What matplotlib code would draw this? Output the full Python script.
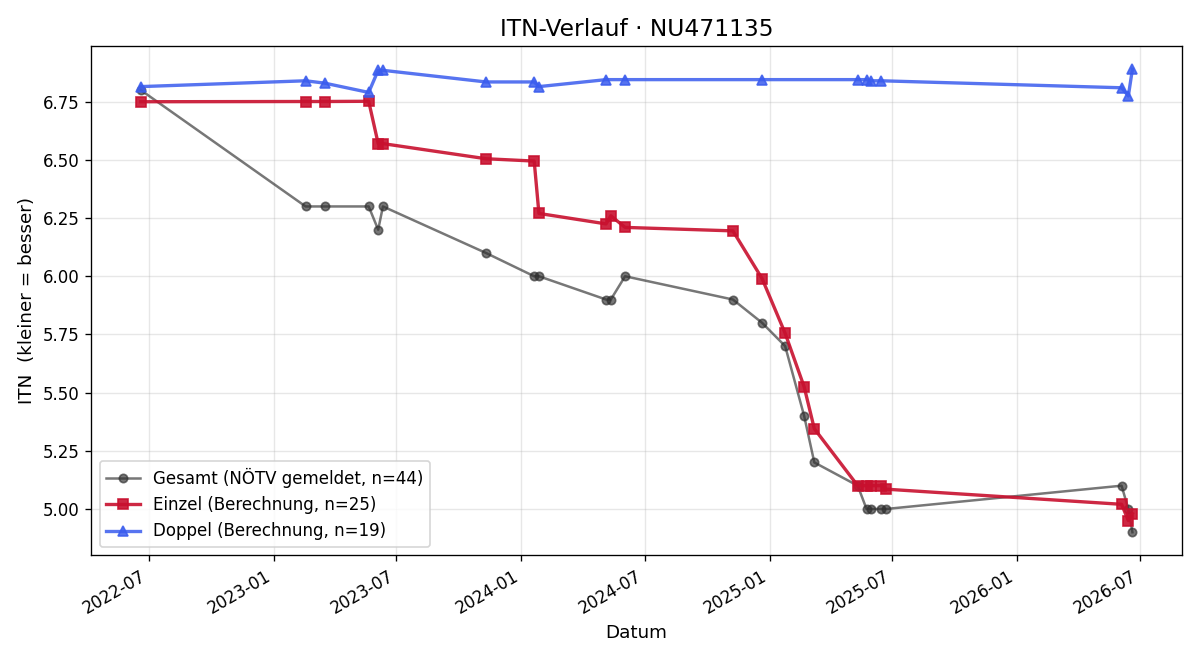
import matplotlib
matplotlib.use("Agg")
import matplotlib.pyplot as plt
import matplotlib.dates as mdates
import pandas as pd

gesamt_dates = ["2022-06-19", "2023-02-17", "2023-03-17", "2023-05-21", "2023-06-04", "2023-06-11",
                "2023-11-10", "2024-01-20", "2024-01-27", "2024-05-05", "2024-05-12", "2024-06-02",
                "2024-11-08", "2024-12-21", "2025-01-24", "2025-02-21", "2025-03-08", "2025-05-11",
                "2025-05-24", "2025-05-30", "2025-06-15", "2025-06-22", "2026-06-04", "2026-06-14",
                "2026-06-20"]
gesamt_vals = [6.80, 6.30, 6.30, 6.30, 6.20, 6.30,
               6.10, 6.00, 6.00, 5.90, 5.90, 6.00,
               5.90, 5.80, 5.70, 5.40, 5.20, 5.10,
               5.00, 5.00, 5.00, 5.00, 5.10, 5.00,
               4.90]

einzel_dates = ["2022-06-19", "2023-02-17", "2023-03-17", "2023-05-21", "2023-06-04", "2023-06-11",
                "2023-11-10", "2024-01-20", "2024-01-27", "2024-05-05", "2024-05-12", "2024-06-02",
                "2024-11-08", "2024-12-21", "2025-01-24", "2025-02-21", "2025-03-08", "2025-05-11",
                "2025-05-24", "2025-05-30", "2025-06-15", "2025-06-22", "2026-06-04", "2026-06-14",
                "2026-06-20"]
einzel_vals = [6.75, 6.751, 6.751, 6.752, 6.57, 6.57,
               6.505, 6.495, 6.27, 6.225, 6.26, 6.21,
               6.195, 5.99, 5.755, 5.525, 5.345, 5.10,
               5.10, 5.10, 5.10, 5.085, 5.02, 4.95,
               4.98]

doppel_dates = ["2022-06-19", "2023-02-17", "2023-03-17", "2023-05-21", "2023-06-04", "2023-06-11",
                "2023-11-10", "2024-01-20", "2024-01-27", "2024-05-05", "2024-06-02", "2024-12-21",
                "2025-05-11", "2025-05-24", "2025-05-30", "2025-06-15", "2026-06-04", "2026-06-14",
                "2026-06-20"]
doppel_vals = [6.815, 6.84, 6.83, 6.79, 6.885, 6.885,
               6.835, 6.835, 6.815, 6.845, 6.845, 6.845,
               6.845, 6.845, 6.84, 6.84, 6.81, 6.775,
               6.89]

labels = ["Gesamt (NÖTV gemeldet, n=44)", "Einzel (Berechnung, n=25)", "Doppel (Berechnung, n=19)"]

fig, ax = plt.subplots(figsize=(10, 5.5), dpi=120)
ax.plot(pd.to_datetime(gesamt_dates), gesamt_vals, marker="o", color="#2e2e2e", alpha=0.65,
        lw=1.5, ms=5, label=labels[0])
ax.plot(pd.to_datetime(einzel_dates), einzel_vals, marker="s", color="#C8102E", alpha=0.9,
        lw=2, ms=6, label=labels[1])
ax.plot(pd.to_datetime(doppel_dates), doppel_vals, marker="^", color="#3A5CEE", alpha=0.85,
        lw=2, ms=6, label=labels[2])

ax.set_title("ITN-Verlauf · NU471135", fontsize=14)
ax.set_xlabel("Datum", fontsize=11)
ax.set_ylabel("ITN  (kleiner = besser)", fontsize=11)
ax.grid(True, alpha=0.3)
ax.xaxis.set_major_locator(mdates.MonthLocator(bymonth=[1, 7]))
ax.xaxis.set_major_formatter(mdates.DateFormatter("%Y-%m"))
ax.yaxis.set_major_formatter(matplotlib.ticker.FormatStrFormatter("%.2f"))
ax.legend(loc="lower left")
fig.autofmt_xdate()
fig.tight_layout()
fig.savefig("out.png", dpi=120)
